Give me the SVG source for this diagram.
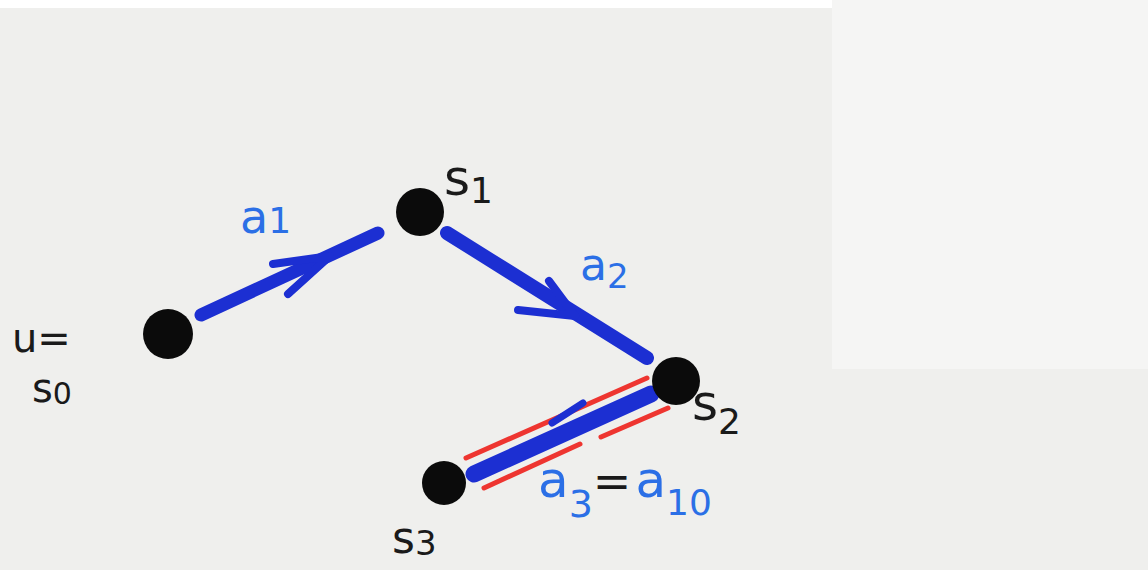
<svg xmlns="http://www.w3.org/2000/svg" width="1148" height="570" viewBox="0 0 1148 570">
<style>
.dot{fill:#0b0b0b}
.edge{stroke:#1c2fd2;stroke-linecap:round;stroke-linejoin:round;fill:none}
.red{stroke:#ee3530;stroke-width:5;stroke-linecap:round;fill:none}
.lb{font-family:"DejaVu Sans","Liberation Sans",sans-serif;fill:#1a1a1a}
.lblue{font-family:"DejaVu Sans","Liberation Sans",sans-serif;fill:#2b6fe6}
</style>
<rect x="0" y="0" width="1148" height="570" fill="#efefed"/>
<rect x="0" y="0" width="832" height="8" fill="#ffffff"/>
<rect x="832" y="0" width="316" height="369" fill="#f5f5f4"/>
<g id="connectors">
  <g id="a1">
    <line class="edge" x1="201" y1="315" x2="378" y2="233" stroke-width="13"/>
    <polyline class="edge" points="273,264 330,256 288,294" stroke-width="8"/>
  </g>
  <g id="a2">
    <line class="edge" x1="447" y1="233" x2="647" y2="358" stroke-width="14"/>
    <polyline class="edge" points="549,281 575,316 518,310" stroke-width="8"/>
  </g>
  <g id="a3">
    <line class="red" x1="466" y1="458" x2="647" y2="378"/>
    <line class="edge" x1="474" y1="474" x2="651" y2="394" stroke-width="17"/>
    <line class="edge" x1="583" y1="403" x2="552" y2="423" stroke-width="7"/>
    <line class="red" x1="484" y1="488" x2="580" y2="444"/>
    <line class="red" x1="601" y1="437" x2="668" y2="408"/>
  </g>
</g>
<g id="s0"><circle class="dot" cx="168" cy="334" r="25"/></g>
<g id="s1"><circle class="dot" cx="420" cy="212" r="24"/></g>
<g id="s2"><circle class="dot" cx="676" cy="381" r="24"/></g>
<g id="s3"><circle class="dot" cx="444" cy="483" r="22"/></g>
<g id="labels">
  <text class="lb" x="12" y="352" font-size="40">u=</text>
  <text class="lb" x="32" y="402" font-size="40">s<tspan font-size="30" dy="2">0</tspan></text>
  <text class="lb" x="444" y="195" font-size="50">s<tspan font-size="36" dy="8">1</tspan></text>
  <text class="lb" x="692" y="420" font-size="50">s<tspan font-size="36" dy="14">2</tspan></text>
  <text class="lb" x="392" y="553" font-size="44">s<tspan font-size="34" dy="2">3</tspan></text>
  <text class="lblue" x="240" y="233" font-size="46">a<tspan font-size="36">1</tspan></text>
  <text class="lblue" x="580" y="280" font-size="44">a<tspan font-size="34" dy="8">2</tspan></text>
  <text class="lblue" x="538" y="497" font-size="50">a<tspan font-size="38" dy="20">3</tspan><tspan class="lb" font-size="46" dy="-20" fill="#1a1a1a">=</tspan><tspan dx="4">a</tspan><tspan font-size="36" dy="18">10</tspan></text>
</g>
</svg>
